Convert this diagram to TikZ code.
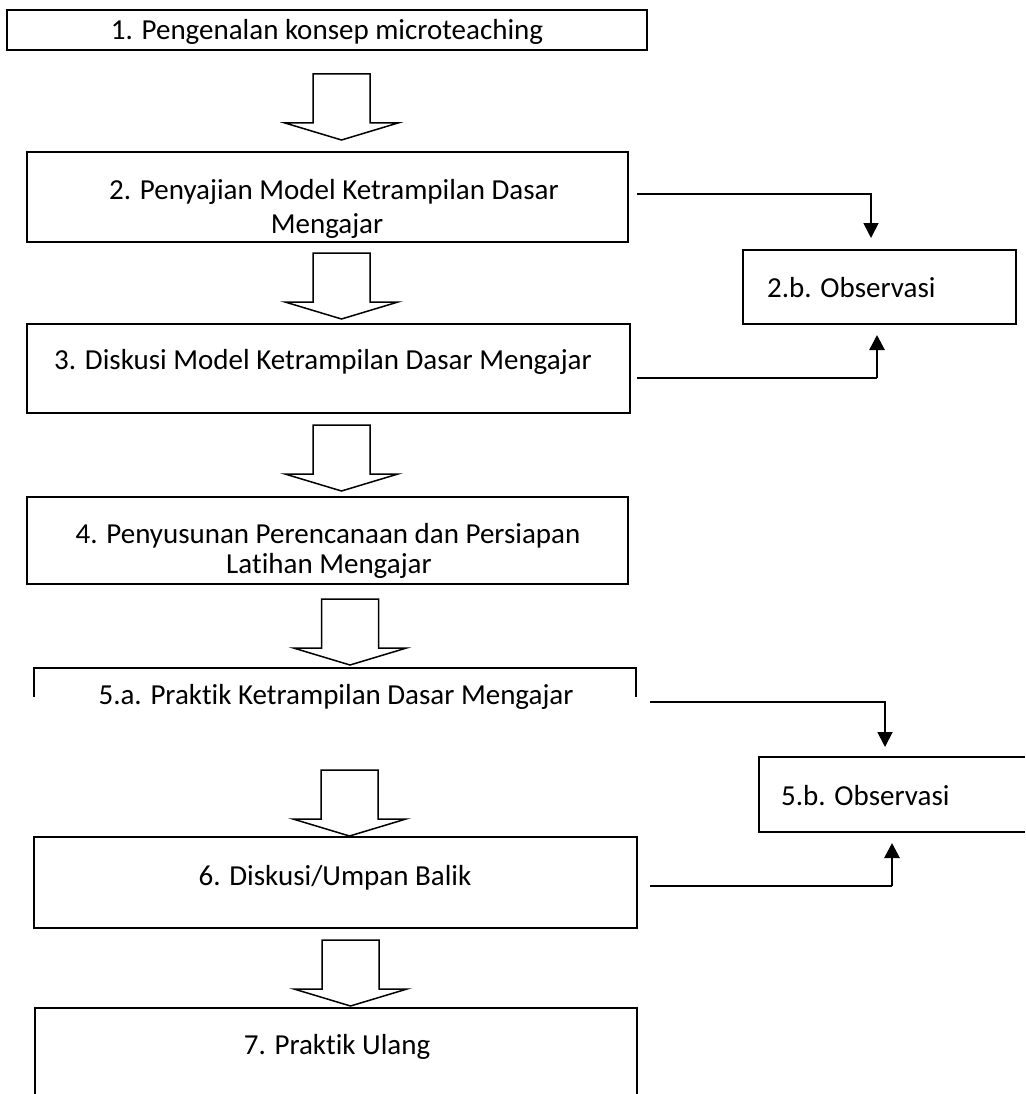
\documentclass[tikz,border=0pt]{standalone}
\usepackage{fontspec}
\setmainfont{Carlito}[Ligatures=NoCommon]
\usetikzlibrary{arrows.meta,calc}
\begin{document}
\begin{tikzpicture}[x=1pt,y=-1pt,
  boxnode/.style={inner sep=0pt, outer sep=0pt, line width=1.5pt},
  bline/.style={line width=1.5pt},
  txt/.style={inner sep=0pt, anchor=base, font=\fontsize{29}{34}\selectfont},
  conn/.style={line width=1.8pt, -{Triangle[width=15pt,length=15pt]}},
  connline/.style={line width=1.8pt},
  upconn/.style={line width=2.8pt, -{Triangle[width=15pt,length=15pt]}},
  blockarrow/.pic={\draw[line width=1.5pt, line join=miter]
      (-28.5,0) -- (28.5,0) -- (28.5,49) -- (56.5,49) -- (0,66)
      -- (-56.5,49) -- (-28.5,49) -- cycle;}
]
\useasboundingbox (0,0) rectangle (1025,1094);

% boxes
\node[boxnode, draw, minimum width=640pt, minimum height=40pt] (b1) at (327,30) {};
\node[boxnode, draw, minimum width=601pt, minimum height=90pt] (b2) at (327.5,197) {};
\node[boxnode, draw, minimum width=603pt, minimum height=89pt] (b3) at (328.5,368.5) {};
\node[boxnode, draw, minimum width=601pt, minimum height=87pt] (b4) at (327.5,540.5) {};
\node[boxnode, minimum width=602pt, minimum height=72pt] (b5a) at (335,704) {};
\node[boxnode, draw, minimum width=603pt, minimum height=91pt] (b6) at (335.5,882.5) {};
\node[boxnode, minimum width=602pt, minimum height=86pt] (b7) at (336,1051) {};
\node[boxnode, draw, minimum width=273pt, minimum height=74pt] (o2) at (879.5,287) {};
\node[boxnode, minimum width=266pt, minimum height=75pt] (o5) at (892,794.5) {};

% open boxes
\draw[bline] ([yshift=-29pt]b5a.north west) -- (b5a.north west) -- (b5a.north east) -- ([yshift=-29pt]b5a.north east);
\draw[bline] (b7.south west) -- (b7.north west) -- (b7.north east) -- (b7.south east);
\draw[bline] (o5.north east) -- (o5.north west) -- (o5.south west) -- (o5.south east);

% texts
\node[txt] (t1) at (327,40) {1. Pengenalan konsep microteaching};
\node[txt] (t2a) at (334,200) {2. Penyajian Model Ketrampilan Dasar};
\node[txt] (t2b) at (327,233) {Mengajar};
\node[txt] (t3) at (323,369) {3. Diskusi Model Ketrampilan Dasar Mengajar};
\node[txt] (t4a) at (328,543) {4. Penyusunan Perencanaan dan Persiapan};
\node[txt] (t4b) at (329,573) {Latihan Mengajar};
\node[txt] (t5a) at (336,704) {5.a. Praktik Ketrampilan Dasar Mengajar};
\node[txt] (t6) at (335,885) {6. Diskusi/Umpan Balik};
\node[txt] (t7) at (337,1054) {7. Praktik Ulang};
\node[txt, anchor=base west] (to2) at (767,297) {2.b. Observasi};
\node[txt, anchor=base west] (to5) at (781,805) {5.b. Observasi};

% block arrows
\pic (a1) at (341.5,74) {blockarrow};
\pic (a2) at (341.5,253) {blockarrow};
\pic (a3) at (341.5,425) {blockarrow};
\pic (a4) at (350,599) {blockarrow};
\pic (a5) at (349.5,770) {blockarrow};
\pic (a6) at (350.5,940) {blockarrow};

% connectors
\draw[conn] ([shift={(9pt,3pt)}]b2.east) -| ([shift={(-8.5pt,12pt)}]o2.north);
\coordinate (c3s) at ([shift={(7pt,-9.5pt)}]b3.east);
\coordinate (c3e) at ([shift={(-2.5pt,-11pt)}]o2.south);
\coordinate (c3k) at (c3s -| c3e);
\draw[connline] (c3s) -- (c3k);
\draw[upconn] (c3k) -- (c3e);
\draw[conn] ([shift={(14pt,2pt)}]b5a.east) -| ([shift={(-7pt,10pt)}]o5.north);
\coordinate (c6s) at ([shift={(13pt,-3.5pt)}]b6.east);
\coordinate (c6e) at ([yshift=-11pt]o5.south);
\coordinate (c6k) at (c6s -| c6e);
\draw[connline] (c6s) -- (c6k);
\draw[upconn] (c6k) -- (c6e);
\end{tikzpicture}
\end{document}
